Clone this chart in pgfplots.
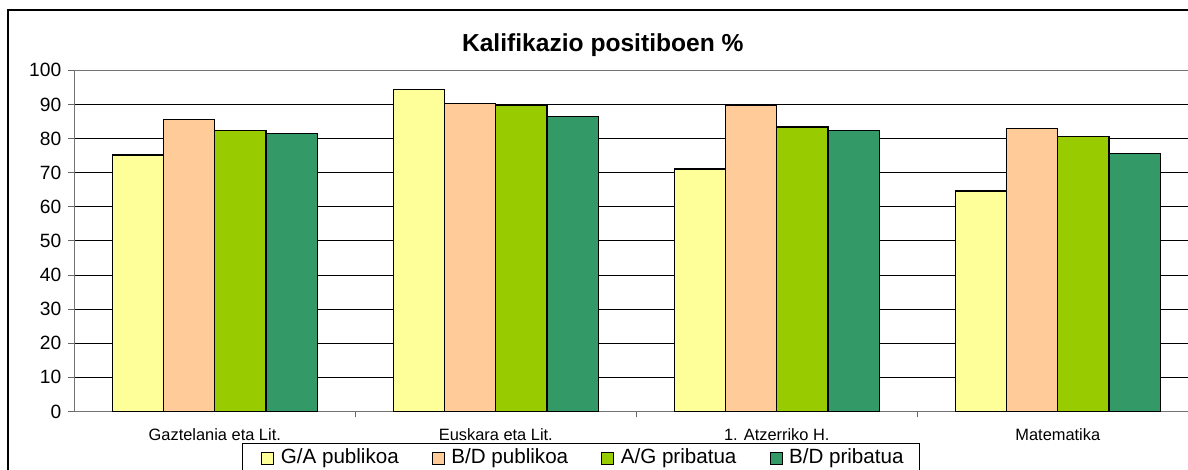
\documentclass[border=0pt]{standalone}
\usepackage{fontspec}
\setmainfont{Liberation Sans}
\usepackage{pgfplots}
\pgfplotsset{compat=1.18}
\definecolor{gapub}{HTML}{FFFF99}
\definecolor{bdpub}{HTML}{FFCC99}
\definecolor{agpri}{HTML}{99CC00}
\definecolor{bdpri}{HTML}{339966}

\begin{document}
\begin{tikzpicture}
\useasboundingbox (0pt,0pt) rectangle (594pt,235pt);
\clip (0pt,0pt) rectangle (594pt,235pt);
\draw[black, line width=0.7pt] (4pt,230pt) rectangle (620pt,-20pt);
\begin{axis}[
    at={(37.15pt,29.25pt)}, anchor=south west,
    scale only axis,
    width=562pt, height=170.6pt,
    ybar=0pt,
    bar width=0.1824,
    xmin=-0.5, xmax=3.5,
    ymin=0, ymax=100,
    xtick={0,1,2,3},
    xticklabels={Gaztelania eta Lit.,Euskara eta Lit.,1. Atzerriko H.,Matematika},
    minor x tick num=1,
    ytick={0,10,...,100},
    xtick pos=bottom, ytick pos=left,
    tick align=outside,
    major tick length=3pt, minor tick length=3pt,
    major x tick style={draw=none},
    minor x tick style={draw=black!60, line width=0.5pt},
    ytick style={draw=black!60, line width=0.5pt},
    axis line style={draw=black!55, line width=0.75pt},
    ymajorgrids=true,
    major grid style={draw=black, line width=0.5pt},
    /pgf/number format/assume math mode=true,
    yticklabel style={font=\fontsize{9.6}{11}\selectfont, text=black},
    xticklabel style={font=\fontsize{8.2}{10}\selectfont, text=black, yshift=-2pt},
    legend style={
        at={(0.1489,-0.0932)}, anchor=north west,
        draw=black, line width=0.6pt,
        legend columns=4,
        font=\fontsize{10.3}{12}\selectfont,
        inner xsep=6pt, inner ysep=0.5pt,
        /tikz/every even column/.append style={column sep=11pt},
    },
    legend cell align=left,
    legend image code/.code={
        \path[draw=none, fill=none] (-3.8pt,0pt) rectangle (7.5pt,0pt);
        \draw[#1, draw=black, line width=0.5pt] (0pt,-3.5pt) rectangle (6pt,2.5pt);
    },
    clip=false,
]
\addplot[fill=gapub, draw=black, line width=0.6pt] coordinates {
    (0,75.2) (1,94.3) (2,71.1) (3,64.6)
};
\addplot[fill=bdpub, draw=black, line width=0.6pt] coordinates {
    (0,85.6) (1,90.2) (2,89.7) (3,82.9)
};
\addplot[fill=agpri, draw=black, line width=0.6pt] coordinates {
    (0,82.4) (1,89.7) (2,83.4) (3,80.5)
};
\addplot[fill=bdpri, draw=black, line width=0.6pt] coordinates {
    (0,81.5) (1,86.5) (2,82.4) (3,75.6)
};
\legend{G/A publikoa, B/D publikoa, A/G pribatua, B/D pribatua}
\end{axis}
\node[anchor=base, font=\fontsize{12.3}{14}\selectfont\bfseries]
    at (301.4pt,209.15pt) {Kalifikazio positiboen \%};
\end{tikzpicture}
\end{document}
